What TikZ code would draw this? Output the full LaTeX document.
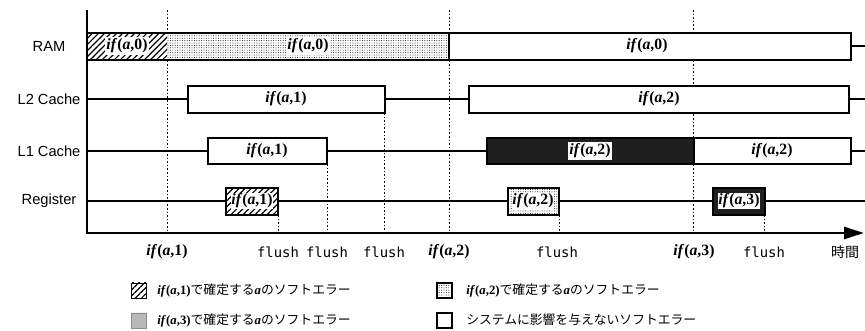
\documentclass[tikz,border=0pt]{standalone}
\usepackage{fontspec}
\setmainfont{Liberation Serif}
\newfontfamily\rowfont{Liberation Sans}
\newfontfamily\monof{DejaVu Sans Mono}
\newfontfamily\cjk{Noto Sans CJK JP}
\usetikzlibrary{patterns.meta,arrows.meta}
\newcommand\IFA[1]{\textbf{\textit{if}(\textit{a},#1)}}
\tikzset{
  rowlbl/.style={font=\rowfont\fontsize{11}{13}\selectfont, anchor=center},
  boxlbl/.style={font=\fontsize{11.8}{13}\selectfont, fill=white, inner sep=1.2pt},
  axlbl/.style={font=\fontsize{11.8}{13}\selectfont, anchor=center},
  flushlbl/.style={font=\monof\fontsize{10.4}{12}\selectfont, anchor=center},
  legtxt/.style={font=\cjk\fontsize{9.6}{11}\selectfont, anchor=west, inner sep=0pt},
  legif/.style={},
  tbox/.style={draw=black, line width=1pt, fill=white},
  rambox/.style={draw=black, line width=1.4pt},
  hatch/.style={pattern={Lines[angle=45,distance=3.2pt,line width=0.9pt]}},
  dotfill/.style={pattern={Dots[distance=1.8pt,radius=0.35pt]}},
  darkfill/.style={fill=black!88},
  vdot/.style={line width=0.6pt, dash pattern=on 1.2pt off 1.5pt},
  rowline/.style={line width=0.8pt},
  axisline/.style={line width=2.2pt}
}
\newcommand\LEGIF[1]{{\fontsize{9.6}{12}\selectfont\rmfamily\IFA{#1}}}
\begin{document}
\begin{tikzpicture}[x=0.75pt,y=-0.75pt]
\useasboundingbox (0,0) rectangle (865,331);
% dotted time markers
\coordinate (t1top) at (167,10);  \coordinate (t1) at (167,233);
\coordinate (f1top) at (278,215); \coordinate (f1) at (278,233);
\coordinate (f2top) at (327,164); \coordinate (f2) at (327,233);
\coordinate (f3top) at (384,113); \coordinate (f3) at (384,233);
\coordinate (t2top) at (449,10);  \coordinate (t2) at (449,233);
\coordinate (f4top) at (559,215); \coordinate (f4) at (559,233);
\coordinate (t3top) at (693,10);  \coordinate (t3) at (693,233);
\coordinate (f5top) at (764,215); \coordinate (f5) at (764,233);
\foreach \a/\b in {t1top/t1,f1top/f1,f2top/f2,f3top/f3,t2top/t2,f4top/f4,t3top/t3,f5top/f5}
  \draw[vdot] (\a) -- (\b);
% row lines
\coordinate (ramL) at (87,46);   \coordinate (ramR) at (865,46);
\coordinate (l2L) at (87,99);    \coordinate (l2R) at (865,99);
\coordinate (l1L) at (87,151);   \coordinate (l1R) at (865,151);
\coordinate (rgL) at (87,201);   \coordinate (rgR) at (865,201);
\draw[rowline] (ramL) -- (ramR);
\draw[rowline] (l2L) -- (l2R);
\draw[rowline] (l1L) -- (l1R);
\draw[rowline] (rgL) -- (rgR);
% row labels
\node[rowlbl] (lram) at (49,46) {RAM};
\node[rowlbl] (ll2) at (49,99) {L2 Cache};
\node[rowlbl] (ll1) at (49,151) {L1 Cache};
\node[rowlbl] (lrg) at (49,201) {Register};
% RAM boxes
\fill[white] (87,33) rectangle (851,60);
\fill[hatch] (87,33) rectangle (167,60);
\fill[dotfill] (167,33) rectangle (449,60);
\draw[rambox] (87,33) rectangle (851,60);
\draw[line width=1.4pt] (449,33) -- (449,60);
\node[boxlbl] (r0a) at (127,46) {\IFA{0}};
\node[boxlbl] (r0b) at (308,46) {\IFA{0}};
\node[boxlbl] (r0c) at (647,46) {\IFA{0}};
% L2 boxes
\draw[tbox] (188,86) rectangle (385,113);
\node[boxlbl] (l2a) at (286,99) {\IFA{1}};
\draw[tbox] (469,86) rectangle (849,113);
\node[boxlbl] (l2b) at (659,99) {\IFA{2}};
% L1 boxes
\draw[tbox] (208,138) rectangle (327,164);
\node[boxlbl] (l1a) at (267,151) {\IFA{1}};
\draw[tbox,darkfill] (487,138) rectangle (694,164);
\node[boxlbl] (l1b) at (590,151) {\IFA{2}};
\draw[tbox] (694,138) rectangle (851,164);
\node[boxlbl] (l1c) at (772,151) {\IFA{2}};
% Register boxes
\draw[tbox] (226,188) rectangle (278,215);
\fill[hatch] (226,188) rectangle (278,215);
\draw[line width=1pt] (226,188) rectangle (278,215);
\node[boxlbl, inner sep=0.3pt] (rga) at (252,201) {\IFA{1}};
\draw[tbox] (508,188) rectangle (559,215);
\fill[dotfill] (508,188) rectangle (559,215);
\draw[line width=0.8pt] (508,188) rectangle (559,215);
\node[boxlbl, inner sep=0.3pt] (rgb) at (533,201) {\IFA{2}};
\draw[tbox,darkfill] (713,188) rectangle (765,215);
\node[boxlbl, inner sep=0.3pt] (rgc) at (739,201) {\IFA{3}};
% axes
\coordinate (ytop) at (87,10);
\coordinate (origin) at (87,234);
\coordinate (xend) at (864,233);
\draw[axisline] (ytop) -- (origin);
\draw[axisline,-{Triangle[length=15pt,width=9pt]}] (86,233) -- (xend);
% axis labels
\node[axlbl] (a1) at (167,252) {\IFA{1}};
\node[flushlbl] (fl1) at (278,252) {flush};
\node[flushlbl] (fl2) at (327,252) {flush};
\node[flushlbl] (fl3) at (384,252) {flush};
\node[axlbl] (a2) at (449,252) {\IFA{2}};
\node[flushlbl] (fl4) at (557,252) {flush};
\node[axlbl] (a3) at (694,252) {\IFA{3}};
\node[flushlbl] (fl5) at (764,252) {flush};
\node[font=\cjk\fontsize{10.5}{12}\selectfont] (jikan) at (845,252) {時間};
% legend
\fill[hatch] (131,283) rectangle (146,298);
\draw[line width=0.6pt] (131,283) rectangle (146,298);
\node[legtxt] (lg1) at (157,290) {\LEGIF{1}で確定する{\rmfamily\bfseries\itshape a}のソフトエラー};
\fill[black!25] (131,313) rectangle (146,328);
\fill[pattern={Dots[distance=1.5pt,radius=0.3pt]},pattern color=black!55] (131,313) rectangle (146,328);
\draw[line width=0.4pt,black!45] (131,313) rectangle (146,328);
\node[legtxt] (lg3) at (157,320) {\LEGIF{3}で確定する{\rmfamily\bfseries\itshape a}のソフトエラー};
\fill[dotfill] (437,283) rectangle (452,298);
\draw[line width=1pt] (437,283) rectangle (452,298);
\node[legtxt] (lg2) at (466,290) {\LEGIF{2}で確定する{\rmfamily\bfseries\itshape a}のソフトエラー};
\draw[line width=0.8pt] (437,313) rectangle (452,328);
\node[legtxt] (lg4) at (466,320) {システムに影響を与えないソフトエラー};
\end{tikzpicture}
\end{document}
